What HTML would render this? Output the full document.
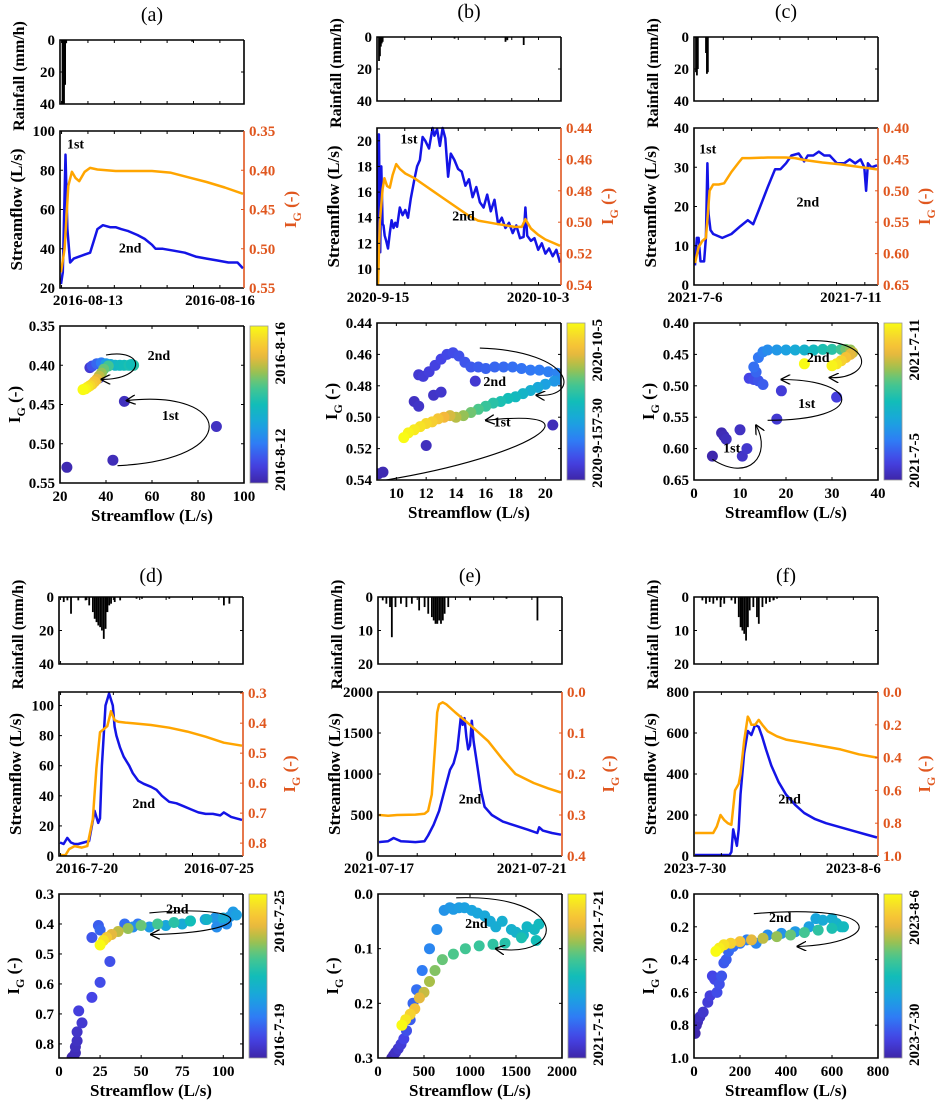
<!DOCTYPE html>
<html><head><meta charset="utf-8">
<style>
html,body{margin:0;padding:0;background:#fff;}
svg{display:block;font-family:"Liberation Serif",serif;font-weight:bold;}
</style></head>
<body>
<svg id="fig" width="944" height="1111" viewBox="0 0 944 1111" xmlns="http://www.w3.org/2000/svg">
<defs><marker id="ah" viewBox="0 0 10 10" refX="9" refY="5" markerWidth="9" markerHeight="9" orient="auto-start-reverse"><path d="M0,0 L10,5 L0,10" fill="none" stroke="#000" stroke-width="1.3"/></marker></defs>
</svg>
<script>
// ===== DATA =====
// panel a
const aRainT=[0.008,0.016,0.022,0.028,0.72];
const aRainV=[40,40,28,2,1];
const aFlowT=[0,0.01,0.025,0.035,0.05,0.07,0.1,0.13,0.16,0.18,0.2,0.23,0.27,0.3,0.33,0.37,0.42,0.46,0.5,0.52,0.56,0.62,0.68,0.74,0.8,0.86,0.92,0.97,1];
const aFlowV=[22,28,88,50,33,35,36,37,38,44,50,52,51,51,50,49,47,45,42,40,40,39,38,36,35,34,33,33,30];
const aIgT=[0,0.02,0.04,0.06,0.08,0.1,0.13,0.16,0.2,0.3,0.4,0.5,0.6,0.7,0.8,0.9,1];
const aIgV=[0.53,0.5,0.42,0.402,0.41,0.414,0.402,0.397,0.399,0.401,0.401,0.401,0.403,0.409,0.415,0.422,0.43];
const aScX=[23,43,48,88,33,37,34,36,38,40,42,44,46,48,50,52,51,41,39,38,37,36,35,34,33,32,31,30];
const aScY=[0.53,0.521,0.446,0.478,0.403,0.416,0.401,0.398,0.397,0.398,0.399,0.4,0.4,0.4,0.4,0.4,0.399,0.401,0.405,0.41,0.414,0.418,0.421,0.424,0.426,0.428,0.43,0.431];
const aScC=[0.02,0.03,0.04,0.05,0.08,0.1,0.15,0.2,0.25,0.35,0.4,0.45,0.48,0.5,0.52,0.55,0.5,0.6,0.65,0.7,0.75,0.8,0.85,0.88,0.92,0.95,0.98,1];
// panel b
const bRainT=[0.005,0.01,0.015,0.02,0.025,0.42,0.7,0.71,0.8];
const bRainV=[15,12,6,4,3,1,3,2,5];
const bFlowT=[0,0.005,0.012,0.018,0.025,0.03,0.037,0.045,0.055,0.065,0.075,0.085,0.095,0.105,0.12,0.135,0.15,0.165,0.18,0.2,0.215,0.23,0.245,0.26,0.28,0.3,0.31,0.325,0.34,0.355,0.37,0.385,0.4,0.42,0.44,0.46,0.48,0.5,0.52,0.54,0.56,0.58,0.6,0.62,0.64,0.66,0.68,0.7,0.72,0.74,0.76,0.78,0.8,0.81,0.82,0.84,0.86,0.88,0.9,0.92,0.94,0.96,0.98,1];
const bFlowV=[9,20.5,11.3,18,13.5,13.4,12.6,12.2,11.6,12.8,13.8,13.2,13.6,13.3,14.8,14.2,14.6,14,15.5,17,18,18.5,20.3,20,19.4,21,20.4,20.9,19.6,21,20.2,17.2,19,18.5,17.8,17.6,16.5,17,15.6,16.4,15.2,14.8,15.8,14.5,15.4,13.5,14,13.2,13.6,12.8,13.4,12.4,12.5,14.8,12.6,12.2,12.4,11.5,12,11.2,11.6,11,11.5,10.5];
const bIgT=[0,0.01,0.025,0.035,0.05,0.065,0.08,0.1,0.12,0.15,0.2,0.25,0.3,0.35,0.4,0.45,0.5,0.55,0.6,0.65,0.7,0.75,0.79,0.81,0.84,0.88,0.92,0.96,1];
const bIgV=[0.54,0.5,0.479,0.472,0.477,0.478,0.47,0.463,0.466,0.469,0.472,0.476,0.48,0.484,0.488,0.492,0.496,0.499,0.5,0.501,0.502,0.503,0.503,0.498,0.504,0.508,0.511,0.513,0.515];
const bScX=[8.8,9.1,20.5,12,11.2,11.5,12.5,13,15.3,11.5,11.8,12.2,12.6,13,13.4,13.8,14.2,14.6,15,15.5,16,16.6,17.2,17.8,18.4,19,19.6,20.2,20.8,21,20.6,20,19.5,19,18.5,18,17.5,17,16.5,16,15.5,15,14.5,14,13.6,13.2,12.8,12.4,12,11.6,11.2,10.8,10.5];
const bScY=[0.536,0.535,0.505,0.518,0.49,0.493,0.486,0.484,0.477,0.473,0.474,0.471,0.467,0.463,0.46,0.459,0.461,0.465,0.468,0.468,0.469,0.468,0.468,0.468,0.469,0.47,0.47,0.471,0.472,0.476,0.477,0.479,0.481,0.483,0.485,0.487,0.488,0.49,0.491,0.493,0.495,0.497,0.499,0.5,0.499,0.5,0.501,0.503,0.504,0.506,0.508,0.51,0.513];
const bScC=[0.01,0.02,0.03,0.04,0.05,0.06,0.06,0.07,0.08,0.08,0.09,0.1,0.11,0.12,0.13,0.14,0.15,0.16,0.17,0.18,0.19,0.2,0.21,0.22,0.23,0.24,0.25,0.26,0.27,0.3,0.33,0.36,0.39,0.42,0.45,0.48,0.5,0.52,0.55,0.58,0.62,0.66,0.7,0.74,0.78,0.82,0.86,0.89,0.92,0.94,0.96,0.98,1];
// panel c
const cRainT=[0.005,0.01,0.015,0.06,0.065,0.07];
const cRainV=[22,24,20,10,23,22];
const cFlowT=[0,0.01,0.02,0.03,0.05,0.06,0.068,0.075,0.085,0.1,0.15,0.2,0.25,0.29,0.32,0.35,0.4,0.44,0.47,0.5,0.53,0.57,0.6,0.62,0.65,0.68,0.71,0.74,0.78,0.82,0.85,0.88,0.91,0.93,0.94,0.95,0.97,1];
const cFlowV=[5,12,12,6,6,12,31,18,14,13,12,13,15,16.5,15.5,19,25,29.5,29.5,31,33,33.5,31.5,33,33,34,33,33,31,31,32,31,32,30,24,31,30,30.5];
const cIgT=[0,0.02,0.04,0.06,0.07,0.08,0.1,0.13,0.16,0.2,0.24,0.26,0.3,0.4,0.5,0.55,0.6,0.7,0.8,0.9,1];
const cIgV=[0.615,0.59,0.58,0.575,0.54,0.5,0.49,0.49,0.488,0.47,0.455,0.448,0.448,0.447,0.447,0.448,0.451,0.455,0.458,0.462,0.466];
const cScX=[4,6,6.5,7,10,10.5,11.5,18,19,31,12,13,14,15,13.5,13,14,15,16,18,20,22,24,26,28,30,32,33,34,34.5,34,33,32,31,30,24];
const cScY=[0.612,0.575,0.58,0.585,0.57,0.612,0.6,0.553,0.508,0.518,0.488,0.49,0.492,0.498,0.478,0.47,0.455,0.446,0.443,0.443,0.443,0.443,0.443,0.443,0.442,0.442,0.442,0.442,0.443,0.447,0.45,0.455,0.46,0.465,0.468,0.465];
const cScC=[0.01,0.02,0.03,0.04,0.05,0.06,0.07,0.08,0.09,0.1,0.12,0.14,0.16,0.18,0.2,0.22,0.24,0.27,0.3,0.33,0.36,0.4,0.44,0.48,0.52,0.55,0.6,0.66,0.7,0.75,0.8,0.85,0.9,0.95,0.98,1];
// panel d
const dRainT=[0.02,0.04,0.06,0.1,0.14,0.16,0.18,0.19,0.2,0.21,0.22,0.23,0.24,0.25,0.26,0.27,0.28,0.3,0.33,0.42,0.45,0.6,0.9,0.93];
const dRainV=[3,2,10,2,2,5,9,13,15,17,18,20,25,19,9,5,4,3,2,1,1,1,5,4];
const dFlowT=[0,0.02,0.04,0.06,0.08,0.1,0.13,0.16,0.19,0.21,0.22,0.23,0.25,0.27,0.29,0.3,0.31,0.33,0.35,0.38,0.4,0.43,0.46,0.5,0.53,0.56,0.6,0.64,0.68,0.72,0.76,0.8,0.84,0.88,0.9,0.94,0.97,1];
const dFlowV=[9,8,12,9,8,8,9,10,30,22,25,60,100,108,100,86,80,72,66,60,55,50,48,46,44,40,36,35,33,31,29,28,28,27,29,26,25,24];
const dIgT=[0,0.03,0.05,0.08,0.12,0.15,0.18,0.2,0.22,0.24,0.26,0.28,0.3,0.32,0.36,0.4,0.5,0.6,0.7,0.8,0.9,1];
const dIgV=[0.84,0.84,0.82,0.81,0.815,0.81,0.72,0.55,0.43,0.42,0.41,0.36,0.39,0.395,0.398,0.4,0.406,0.415,0.428,0.445,0.465,0.475];
const dScX=[8,9,10,10,11,11,12,14,20,25,31,20,24,25,40,48,45,55,65,75,80,89,95,96,100,102,104,106,108,100,90,80,70,60,50,42,36,32,29,27,25];
const dScY=[0.845,0.84,0.83,0.81,0.79,0.76,0.69,0.73,0.645,0.595,0.525,0.445,0.405,0.42,0.4,0.4,0.41,0.41,0.405,0.4,0.39,0.385,0.38,0.41,0.385,0.4,0.375,0.36,0.37,0.38,0.385,0.39,0.395,0.4,0.405,0.415,0.425,0.435,0.445,0.455,0.47];
const dScC=[0.01,0.02,0.03,0.04,0.05,0.06,0.1,0.08,0.12,0.14,0.15,0.16,0.18,0.2,0.22,0.24,0.3,0.34,0.38,0.4,0.42,0.36,0.33,0.3,0.36,0.3,0.32,0.34,0.36,0.4,0.45,0.5,0.55,0.6,0.65,0.7,0.75,0.8,0.88,0.94,1];
// panel e
const eRainT=[0.02,0.04,0.06,0.07,0.09,0.12,0.15,0.18,0.22,0.25,0.27,0.29,0.3,0.31,0.32,0.33,0.34,0.35,0.36,0.38,0.5,0.7,0.87];
const eRainV=[1,2,3,12,3,2,3,2,4,3,5,6,7,8,8,7,8,7,5,3,1,0.5,7];
const eFlowT=[0,0.05,0.08,0.12,0.16,0.2,0.25,0.27,0.3,0.33,0.36,0.39,0.41,0.43,0.44,0.45,0.46,0.47,0.48,0.49,0.5,0.51,0.52,0.54,0.56,0.58,0.62,0.68,0.75,0.82,0.87,0.88,0.9,0.95,1];
const eFlowV=[170,180,220,180,175,170,180,250,380,550,800,1050,1130,1300,1500,1700,1600,1680,1450,1300,1350,1650,1400,1100,800,600,500,420,370,320,280,350,310,280,260];
const eIgT=[0,0.05,0.1,0.2,0.25,0.27,0.29,0.31,0.32,0.33,0.35,0.37,0.42,0.5,0.6,0.68,0.75,0.85,0.93,1];
const eIgV=[0.3,0.302,0.3,0.299,0.297,0.29,0.25,0.12,0.05,0.03,0.025,0.03,0.05,0.08,0.12,0.165,0.2,0.222,0.235,0.245];
const eScX=[150,170,190,220,250,280,310,350,380,420,480,560,640,720,780,820,880,940,1020,1080,1160,1220,1280,1350,1450,1500,1580,1620,1700,1750,1720,1560,1380,1250,1100,950,820,700,620,560,500,450,400,350,300,260];
const eScY=[0.3,0.295,0.29,0.283,0.275,0.265,0.25,0.23,0.2,0.175,0.14,0.1,0.065,0.03,0.025,0.028,0.025,0.025,0.03,0.035,0.04,0.05,0.06,0.05,0.065,0.07,0.075,0.06,0.065,0.055,0.085,0.08,0.09,0.092,0.095,0.1,0.11,0.12,0.14,0.16,0.18,0.19,0.21,0.22,0.23,0.24];
const eScC=[0.01,0.03,0.05,0.07,0.09,0.12,0.15,0.18,0.2,0.22,0.25,0.28,0.3,0.32,0.33,0.34,0.35,0.36,0.37,0.38,0.39,0.4,0.41,0.42,0.43,0.44,0.45,0.46,0.47,0.48,0.5,0.52,0.54,0.56,0.58,0.6,0.62,0.65,0.68,0.72,0.76,0.8,0.85,0.9,0.95,1];
// panel f
const fRainT=[0.04,0.06,0.08,0.1,0.12,0.14,0.16,0.2,0.22,0.24,0.25,0.26,0.27,0.28,0.29,0.3,0.32,0.34,0.35,0.37,0.39,0.41,0.43,0.45];
const fRainV=[1,2,1.5,2,1,3,2,1,2,6,9,10,11,13,9,4,3,6,8,3,2,1.5,1,0.5];
const fFlowT=[0,0.1,0.19,0.2,0.21,0.22,0.23,0.24,0.25,0.27,0.29,0.31,0.33,0.35,0.37,0.39,0.42,0.46,0.5,0.55,0.6,0.66,0.72,0.8,0.88,0.94,1];
const fFlowV=[5,5,5,20,130,90,50,130,300,500,610,590,640,630,580,520,440,360,300,250,210,180,160,140,120,105,90];
const fIgT=[0,0.1,0.12,0.14,0.16,0.18,0.2,0.22,0.24,0.25,0.27,0.29,0.3,0.31,0.33,0.35,0.37,0.4,0.45,0.5,0.6,0.7,0.8,0.9,1];
const fIgV=[0.86,0.86,0.82,0.75,0.78,0.8,0.81,0.6,0.56,0.5,0.3,0.15,0.17,0.2,0.2,0.17,0.2,0.24,0.27,0.29,0.31,0.33,0.35,0.38,0.4];
const fScX=[5,10,15,25,40,60,70,80,90,100,110,120,130,140,150,170,200,230,270,320,380,440,500,530,560,600,620,640,650,600,540,480,420,360,300,250,200,160,130,110,95];
const fScY=[0.85,0.8,0.78,0.75,0.72,0.66,0.62,0.5,0.52,0.6,0.55,0.5,0.42,0.4,0.35,0.32,0.3,0.28,0.3,0.25,0.24,0.23,0.2,0.15,0.16,0.15,0.18,0.2,0.2,0.21,0.22,0.235,0.25,0.26,0.27,0.28,0.29,0.3,0.31,0.33,0.35];
const fScC=[0.01,0.02,0.03,0.05,0.07,0.09,0.1,0.12,0.13,0.14,0.15,0.16,0.17,0.18,0.2,0.22,0.24,0.26,0.28,0.3,0.32,0.34,0.36,0.38,0.4,0.42,0.44,0.46,0.48,0.52,0.56,0.6,0.65,0.7,0.75,0.8,0.85,0.9,0.94,0.97,1];

// ===== RENDER =====
const NS='http://www.w3.org/2000/svg';
const svg=document.getElementById('fig');
function mk(tag,attrs,parent){const e=document.createElementNS(NS,tag);for(const k in attrs)e.setAttribute(k,attrs[k]);(parent||svg).appendChild(e);return e;}
const PAR=[[0,'#3e26a8'],[0.12,'#4543e6'],[0.25,'#2f7cf5'],[0.37,'#1aa4df'],[0.5,'#12bdb8'],[0.62,'#4bc78c'],[0.72,'#a8bf48'],[0.82,'#f4b83c'],[0.91,'#f6d52e'],[1,'#f9fb14']];
function hex(h){return [1,3,5].map(i=>parseInt(h.substr(i,2),16));}
function parula(t){t=Math.max(0,Math.min(1,t));for(let i=1;i<PAR.length;i++){if(t<=PAR[i][0]){const a=PAR[i-1],b=PAR[i];const f=(t-a[0])/(b[0]-a[0]);const A=hex(a[1]),B=hex(b[1]);return 'rgb('+A.map((v,j)=>Math.round(v+(B[j]-v)*f)).join(',')+')';}}return PAR[PAR.length-1][1];}
const ORG='#e0571f', BLUE='#1414e6', YEL='#ffa500';
const TFS=15, LFS=17;
function lin(d0,d1,r0,r1){return v=>r0+(v-d0)/(d1-d0)*(r1-r0);}
function txt(x,y,s,o,parent){const t=mk('text',Object.assign({x:x,y:y,'font-size':o.fs||TFS,'text-anchor':o.anchor||'middle',fill:o.fill||'#000'},o.tr?{transform:o.tr}:{}),parent);t.textContent=s;return t;}
function igLabel(x,y,fill,g){const t=mk('text',{x:0,y:0,'font-size':LFS,'text-anchor':'middle',fill:fill,transform:'translate('+x+','+y+') rotate(-90)'},g);
 const a=mk('tspan',{},t);a.textContent='I';const b=mk('tspan',{dy:5,'font-size':12},t);b.textContent='G';const c=mk('tspan',{dy:-5},t);c.textContent=' (-)';return t;}
function box(x0,y0,x1,y1,g,right){mk('path',{d:'M'+x1+','+y0+' H'+x0+' V'+y1+' H'+x1+(right?'':' V'+y0),fill:'none',stroke:'#000','stroke-width':1.6},g);}
function path(xs,ys,fx,fy,col,w,g){let d='';for(let i=0;i<xs.length;i++)d+=(i?'L':'M')+fx(xs[i]).toFixed(1)+','+fy(ys[i]).toFixed(1);return mk('path',{d:d,fill:'none',stroke:col,'stroke-width':w,'stroke-linejoin':'round'},g);}

const P=[
 {id:'a',x0:60,dy:0,row:0,title:'(a)',rain:[aRainT,aRainV],rainMax:40,flow:[aFlowT,aFlowV],ig:[aIgT,aIgV],sc:[aScX,aScY,aScC],
  fD:[20,100],fT:[20,40,60,80,100],fL:['20','40','60','80','100'],iD:[0.35,0.55],iT:[0.35,0.40,0.45,0.50,0.55],iL:['0.35','0.40','0.45','0.50','0.55'],
  dates:[[0.148,'2016-08-13'],[0.874,'2016-08-16']],tk:0.145,
  sxD:[20,100],sxT:[20,40,60,80,100],sxL:['20','40','60','80','100'],
  cb:['2016-8-16','2016-8-12'],fAnn:[[0.08,91,'1st'],[0.38,38,'2nd']],sAnn:[[63,0.393,'2nd'],[68,0.47,'1st']],
  arrows:[[[40,0.387],[57,0.378],[58,0.418],[38,0.418]],[[45,0.528],[100,0.52],[95,0.43],[49,0.445]]]},
 {id:'b',x0:377,dy:-3,row:0,title:'(b)',rain:[bRainT,bRainV],rainMax:40,flow:[bFlowT,bFlowV],ig:[bIgT,bIgV],sc:[bScX,bScY,bScC],
  fD:[8.75,21],fT:[10,12,14,16,18,20],fL:['10','12','14','16','18','20'],iD:[0.44,0.54],iT:[0.44,0.46,0.48,0.50,0.52,0.54],iL:['0.44','0.46','0.48','0.50','0.52','0.54'],
  dates:[[0,'2020-9-15'],[0.88,'2020-10-3']],tk:0.147,
  sxD:[8.7,21.05],sxT:[10,12,14,16,18,20],sxL:['10','12','14','16','18','20'],sD:[0.44,0.54],
  cb:['2020-10-5','2020-9-157-30'],fAnn:[[0.17,19.8,'1st'],[0.47,13.8,'2nd']],sAnn:[[16.6,0.48,'2nd'],[17.1,0.506,'1st']],
  arrows:[[[15.6,0.456],[22,0.458],[22.5,0.488],[19.4,0.486]],[[9.3,0.54],[19,0.525],[24,0.494],[16,0.502]]]},
 {id:'c',x0:694,dy:-3,row:0,title:'(c)',rain:[cRainT,cRainV],rainMax:40,flow:[cFlowT,cFlowV],ig:[cIgT,cIgV],sc:[cScX,cScY,cScC],
  fD:[0,40],fT:[0,10,20,30,40],fL:['0','10','20','30','40'],iD:[0.40,0.65],iT:[0.40,0.45,0.50,0.55,0.60,0.65],iL:['0.40','0.45','0.50','0.55','0.60','0.65'],
  dates:[[0,'2021-7-6'],[0.857,'2021-7-11']],tk:0.1555,
  sxD:[0,40],sxT:[0,10,20,30,40],sxL:['0','10','20','30','40'],
  cb:['2021-7-11','2021-7-5'],fAnn:[[0.07,33.5,'1st'],[0.62,20,'2nd']],sAnn:[[27,0.462,'2nd'],[24.5,0.535,'1st'],[8.2,0.606,'1st']],
  arrows:[[[24.5,0.428],[40,0.425],[39,0.49],[29.5,0.487]],[[16,0.555],[38,0.555],[36,0.49],[19,0.49]],[[4,0.617],[12,0.655],[17,0.61],[13.5,0.563]]]},
 {id:'d',x0:59,dy:0,row:1,title:'(d)',rain:[dRainT,dRainV],rainMax:40,flow:[dFlowT,dFlowV],ig:[dIgT,dIgV],sc:[dScX,dScY,dScC],
  fD:[0,109],fT:[0,20,40,60,80,100],fL:['0','20','40','60','80','100'],iD:[0.296,0.843],iT:[0.3,0.4,0.5,0.6,0.7,0.8],iL:['0.3','0.4','0.5','0.6','0.7','0.8'],
  dates:[[0.148,'2016-7-20'],[0.874,'2016-07-25']],tk:0.145,
  sxD:[0,112],sxT:[0,25,50,75,100],sxL:['0','25','50','75','100'],sD:[0.3,0.847],sT:[0.3,0.4,0.5,0.6,0.7,0.8],sL:['0.3','0.4','0.5','0.6','0.7','0.8'],
  cb:['2016-7-25','2016-7-19'],fAnn:[[0.46,32,'2nd']],sAnn:[[72,0.365,'2nd']],
  arrows:[[[55,0.363],[120,0.33],[122,0.43],[56,0.435]]]},
 {id:'e',x0:378,dy:0,row:1,title:'(e)',rain:[eRainT,eRainV],rainMax:20,flow:[eFlowT,eFlowV],ig:[eIgT,eIgV],sc:[eScX,eScY,eScC],
  fD:[0,2000],fT:[0,500,1000,1500,2000],fL:['0','500','1000','1500','2000'],iD:[0,0.4],iT:[0,0.1,0.2,0.3,0.4],iL:['0.0','0.1','0.2','0.3','0.4'],
  dates:[[0,'2021-07-17'],[0.84,'2021-07-21']],tk:0.21,
  sxD:[0,2000],sxT:[0,500,1000,1500,2000],sxL:['0','500','1000','1500','2000'],sD:[0,0.3],sT:[0,0.1,0.2,0.3],sL:['0.0','0.1','0.2','0.3'],
  cb:['2021-7-21','2021-7-16'],fAnn:[[0.5,640,'2nd']],sAnn:[[1070,0.062,'2nd']],
  arrows:[[[850,0.007],[2100,0.0],[2050,0.12],[1280,0.1]]]},
 {id:'f',x0:694,dy:0,row:1,title:'(f)',rain:[fRainT,fRainV],rainMax:20,flow:[fFlowT,fFlowV],ig:[fIgT,fIgV],sc:[fScX,fScY,fScC],
  fD:[0,800],fT:[0,200,400,600,800],fL:['0','200','400','600','800'],iD:[0,1],iT:[0,0.2,0.4,0.6,0.8,1],iL:['0.0','0.2','0.4','0.6','0.8','1.0'],
  dates:[[0,'2023-7-30'],[0.87,'2023-8-6']],tk:0.145,
  sxD:[0,800],sxT:[0,200,400,600,800],sxL:['0','200','400','600','800'],sD:[0,1],sT:[0,0.2,0.4,0.6,0.8,1],sL:['0.0','0.2','0.4','0.6','0.8','1.0'],
  cb:['2023-8-6','2023-7-30'],fAnn:[[0.52,256,'2nd']],sAnn:[[375,0.17,'2nd']],
  arrows:[[[260,0.12],[840,0.05],[830,0.3],[450,0.32]]]}
];
const W=184;
const ROWS=[{title:14,rain:[40,104],flow:[131,288],sc:[326,483]},{title:575,rain:[597,664],flow:[692,856],sc:[894,1058]}];

P.forEach(p=>{
 const R=ROWS[p.row], dy=p.dy, x0=p.x0, x1=x0+W;
 const g=mk('g',{});
 
 
 const tt=txt(x0+W/2,R.title+dy+7,p.title,{fs:20},g);
 tt.setAttribute('font-weight','normal');
 
 
 // ---- rainfall ----
 const ry0=R.rain[0]+dy, ry1=R.rain[1]+dy;
 const rg=mk('g',{},g);
 
 
 const fxT=lin(0,1,x0+1,x1-1);
 const fyR=lin(0,p.rainMax,ry0,ry1);
 p.rain[0].forEach((t,i)=>{const b=mk('rect',{x:fxT(t)-0.8,y:ry0,width:1.8,height:Math.max(0.5,fyR(p.rain[1][i])-ry0),fill:'#000'},rg);
  
  });
 for(let k=0;k<=2;k++){const v=p.rainMax*k/2,y=fyR(v);txt(x0-5,y+5,String(v),{anchor:'end'},rg);
  mk('line',{x1:x0,x2:x0+3,y1:y,y2:y,stroke:'#000'},rg);mk('line',{x1:x1,x2:x1-3,y1:y,y2:y,stroke:'#000'},rg);}
 for(let t=p.dates[0][0]%p.tk||p.tk;t<1;t+=p.tk){const x=fxT(t);mk('line',{x1:x,x2:x,y1:ry0,y2:ry0+3,stroke:'#000'},rg);mk('line',{x1:x,x2:x,y1:ry1,y2:ry1-3,stroke:'#000'},rg);}
 box(x0,ry0,x1,ry1,rg);
 const rl=txt(0,0,'Rainfall (mm/h)',{fs:16,tr:'translate('+(x0-36)+','+((ry0+ry1)/2+4)+') rotate(-90)'},rg);
 
 
 // ---- streamflow / IG ----
 const fy0=R.flow[0]+dy, fy1=R.flow[1]+dy;
 const fg=mk('g',{},g);
 
 
 const fyF=lin(p.fD[0],p.fD[1],fy1,fy0), fyI=lin(p.iD[0],p.iD[1],fy0,fy1);
 const pf=path(p.flow[0],p.flow[1],fxT,fyF,BLUE,2.5,fg);
 
 
 const pi=path(p.ig[0],p.ig[1],fxT,fyI,YEL,2.5,fg);
 
 
 p.fT.forEach((v,i)=>{const y=fyF(v);txt(x0-5,y+5,p.fL[i],{anchor:'end'},fg);mk('line',{x1:x0,x2:x0+3,y1:y,y2:y,stroke:'#000'},fg);});
 p.iT.forEach((v,i)=>{const y=fyI(v);txt(x1+5,y+5,p.iL[i],{anchor:'start',fill:ORG},fg);mk('line',{x1:x1,x2:x1-3,y1:y,y2:y,stroke:ORG},fg);});
 for(let t=p.dates[0][0]%p.tk||p.tk;t<1;t+=p.tk){const x=fxT(t);mk('line',{x1:x,x2:x,y1:fy0,y2:fy0+3,stroke:'#000'},fg);mk('line',{x1:x,x2:x,y1:fy1,y2:fy1-3,stroke:'#000'},fg);}
 p.dates.forEach(d=>{const l=txt(fxT(d[0]),fy1+17,d[1],{},fg);});
 box(x0,fy0,x1,fy1,fg,true);
 mk('line',{x1:x1,x2:x1,y1:fy0,y2:fy1,stroke:ORG,'stroke-width':1.6},fg);
 const fl=txt(0,0,'Streamflow (L/s)',{fs:LFS,tr:'translate('+(x0-38)+','+((fy0+fy1)/2)+') rotate(-90)'},fg);
 
 
 const il=igLabel(x1+52,(fy0+fy1)/2,ORG,fg);
 
 
 p.fAnn.forEach(a=>{const t=txt(fxT(a[0]),fyF(a[1]),a[2],{fs:14},fg);});
 // ---- scatter ----
 const sy0=R.sc[0]+dy, sy1=R.sc[1]+dy;
 const sg=mk('g',{},g);
 
 
 const sD=p.sD||p.iD, sT=p.sT||p.iT, sL=p.sL||p.iL;
 const sx=lin(p.sxD[0],p.sxD[1],x0,x1), sy=lin(sD[0],sD[1],sy0,sy1);
 const cp=mk('clipPath',{id:'cp'+p.id},sg);mk('rect',{x:x0,y:sy0,width:W,height:sy1-sy0},cp);
 const dots=mk('g',{'clip-path':'url(#cp'+p.id+')'},sg);
 p.sc[0].forEach((v,i)=>{const c=mk('circle',{cx:sx(v).toFixed(1),cy:sy(p.sc[1][i]).toFixed(1),r:5.5,fill:parula(p.sc[2][i])},dots);
  
  });
 p.arrows.forEach(a=>{const q=a.map(pt=>sx(pt[0]).toFixed(1)+','+sy(pt[1]).toFixed(1));
  const ar=mk('path',{d:'M'+q[0]+' C'+q[1]+' '+q[2]+' '+q[3],fill:'none',stroke:'#000','stroke-width':1.1,'marker-end':'url(#ah)'},sg);
  
  });
 p.sAnn.forEach(a=>{const t=txt(sx(a[0]),sy(a[1]),a[2],{fs:14},sg);});
 sT.forEach((v,i)=>{const y=sy(v);txt(x0-5,y+5,sL[i],{anchor:'end'},sg);mk('line',{x1:x0,x2:x0+3,y1:y,y2:y,stroke:'#000'},sg);mk('line',{x1:x1,x2:x1-3,y1:y,y2:y,stroke:'#000'},sg);});
 p.sxT.forEach((v,i)=>{const x=sx(v);txt(x,sy1+18,p.sxL[i],{},sg);mk('line',{x1:x,x2:x,y1:sy1,y2:sy1-3,stroke:'#000'},sg);mk('line',{x1:x,x2:x,y1:sy0,y2:sy0+3,stroke:'#000'},sg);});
 box(x0,sy0,x1,sy1,sg);
 const xl=txt(x0+W/2,sy1+38,'Streamflow (L/s)',{fs:LFS},sg);
 
 
 const yl=igLabel(x0-40,(sy0+sy1)/2,'#000',sg);
 
 
 // colorbar
 const cx=x1+6, cg=mk('g',{},sg);
 
 
 const gr=mk('linearGradient',{id:'gr'+p.id,x1:0,y1:1,x2:0,y2:0},cg);
 for(let k=0;k<=20;k++)mk('stop',{offset:k/20,'stop-color':parula(k/20)},gr);
 mk('rect',{x:cx,y:sy0,width:18,height:sy1-sy0,fill:'url(#gr'+p.id+')',stroke:'#999','stroke-width':0.8},cg);
 txt(0,0,p.cb[0],{anchor:'end',tr:'translate('+(cx+35)+','+(sy0-4)+') rotate(-90)'},cg);
 txt(0,0,p.cb[1],{anchor:'start',tr:'translate('+(cx+35)+','+(sy1+8)+') rotate(-90)'},cg);
});
</script>
</body></html>
